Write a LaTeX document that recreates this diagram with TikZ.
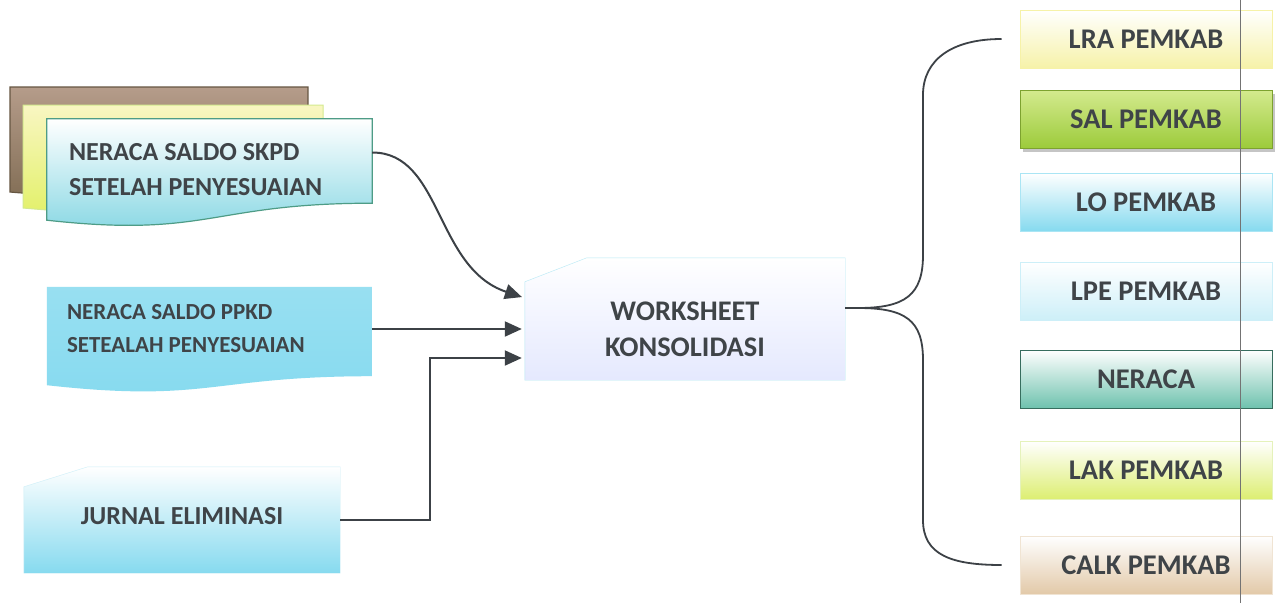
\documentclass[tikz,border=0pt]{standalone}
\usepackage{fontspec}
\setmainfont{Carlito}
\usepackage{tikz}
\usetikzlibrary{
  arrows.meta,
  backgrounds,
  shadows
}
\definecolor{ink}{HTML}{3F4448}
\definecolor{wire}{HTML}{3C4146}
\definecolor{aqua}{HTML}{86DAEF}
\definecolor{paleaqua}{HTML}{CDEFF8}
\definecolor{tealrim}{HTML}{4E9C86}
\definecolor{lemon}{HTML}{F6F2A8}
\definecolor{lime}{HTML}{9CCB3B}
\definecolor{limetop}{HTML}{D4EA8E}
\definecolor{teal}{HTML}{6FC2AE}
\definecolor{tan}{HTML}{E2C9A8}
\definecolor{bark}{HTML}{B59C8A}
\definecolor{barkdark}{HTML}{7F6B52}
\tikzset{
  every node/.style={text=ink,font=\bfseries},
  doc text/.style={align=flush left,inner ysep=0pt,text width=281pt,inner xsep=22pt},
  snip text/.style={inner sep=0pt},
  report/.style={minimum width=252pt,minimum height=58pt,inner sep=0pt,
    line width=1pt,font=\bfseries\fontsize{28.5}{32}\selectfont},
  lrabox/.style={top color=white,bottom color=lemon,draw=lemon},
  salbox/.style={top color=limetop,bottom color=lime,draw=lime!80!black,
    drop shadow={shadow xshift=3pt,shadow yshift=-4pt,fill=black!45}},
  lobox/.style={top color=white,bottom color=aqua,draw=aqua!70},
  lpebox/.style={top color=white,bottom color=paleaqua,draw=paleaqua},
  nerbox/.style={top color=white,bottom color=teal,draw=tealrim!70!black},
  lakbox/.style={top color=white,bottom color=limetop!80!yellow,draw=limetop!60},
  calkbox/.style={top color=white,bottom color=tan,draw=tan!50},
  arr/.style={draw=wire,line width=2pt,-{Triangle[length=17pt,width=15pt]}},
  brace/.style={draw=wire,line width=1.8pt},
}

\begin{document}
\begin{tikzpicture}[x=1pt,y=-1pt]
\useasboundingbox (0,0) rectangle (1278,603);

\node[doc text,minimum height=101pt,font=\bfseries\fontsize{26}{35}\selectfont] (skpd) at (209.5,169.5)
  {NERACA SALDO SKPD\\SETELAH PENYESUAIAN};
\node[doc text,minimum height=84pt,inner xsep=20pt,text width=285pt,font=\bfseries\fontsize{23}{33}\selectfont] (ppkd) at (209.5,329)
  {NERACA SALDO PPKD\\SETEALAH PENYESUAIAN};
\node[snip text,minimum width=316pt,minimum height=106pt,text depth=9pt,font=\bfseries\fontsize{26}{32}\selectfont] (jurnal) at (182,520)
  {JURNAL ELIMINASI};
\node[snip text,minimum width=320pt,minimum height=122pt,align=center,font=\bfseries\fontsize{28.4}{36}\selectfont] (ws) at (685,319)
  {\rule{0pt}{40pt}WORKSHEET\\KONSOLIDASI};

\foreach \nm/\yy/\sty/\txt in {lra/39/lrabox/LRA PEMKAB, sal/119/salbox/SAL PEMKAB,
    lo/202/lobox/LO PEMKAB, lpe/291/lpebox/LPE PEMKAB, neraca/379/nerbox/NERACA,
    lak/470/lakbox/LAK PEMKAB, calk/565/calkbox/CALK PEMKAB}
  \node[report,\sty] (\nm) at (1146,\yy) {\txt};

\begin{scope}[on background layer]
\fill[white] (0,0) rectangle (1278,603);
% stacked sheets behind the SKPD sheet
\path[draw=barkdark!80!black,line width=1.2pt,top color=bark,bottom color=barkdark]
  (10,87) -- (308,87) -- (308,182) .. controls (160,182) and (160,205) .. (10,192) -- cycle;
\path[draw=limetop,line width=1pt,top color=lemon!70,bottom color=limetop!70!yellow]
  (23,105) -- (323,105) -- (323,192) .. controls (173,192) and (173,222) .. (23,208) -- cycle;
\path[draw=tealrim,line width=1.2pt,top color=white,middle color=white,bottom color=aqua!80!teal]
  (skpd.north west) -- (skpd.north east) -- ([yshift=17pt]skpd.south east)
  .. controls +(-162,0) and +(162,18) .. (skpd.south west) -- cycle;
\path[top color=aqua!85,middle color=aqua!20,bottom color=aqua]
  (ppkd.north west) -- (ppkd.north east) -- ([yshift=-5pt]ppkd.south east)
  .. controls +(-162,0) and +(162,18) .. ([yshift=-14pt]ppkd.south west) -- cycle;
\path[draw=paleaqua,top color=white,bottom color=aqua]
  ([yshift=-20pt]jurnal.north west) -- ([xshift=64pt]jurnal.north west) -- (jurnal.north east)
  -- (jurnal.south east) -- (jurnal.south west) -- cycle;
\path[draw=aqua!60,top color=white,middle color=paleaqua!40,bottom color=paleaqua!60!blue!20]
  ([yshift=-24pt]ws.north west) -- ([xshift=62pt]ws.north west) -- (ws.north east)
  -- (ws.south east) -- (ws.south west) -- cycle;
\end{scope}

\draw[arr,shorten >=3pt] ([yshift=17pt]skpd.east) .. controls +(70,0) and +(-90,-30) .. ([yshift=21pt]ws.west);
\draw[arr,shorten >=3pt] (ppkd.east) -- (ppkd.east -| ws.west);
\draw[arr,shorten >=3pt] (jurnal.east) -- ++(90,0) |- ([yshift=-39pt]ws.west);

\draw[brace] ([yshift=11pt]ws.east) -- ++(13,0) coordinate (fork);
\draw[brace] (fork) .. controls +(47,0) and +(0,40) .. (923,255) -- (923,95)
  .. controls +(0,-35) and +(-50,0) .. ([xshift=-18pt]lra.west);
\draw[brace] (fork) .. controls +(47,0) and +(0,-40) .. (923,360) -- (923,520)
  .. controls +(0,35) and +(-50,0) .. ([xshift=-18pt]calk.west);

\draw[black!55,line width=0.6pt] (1240,0) -- (1240,603);
\end{tikzpicture}
\end{document}
